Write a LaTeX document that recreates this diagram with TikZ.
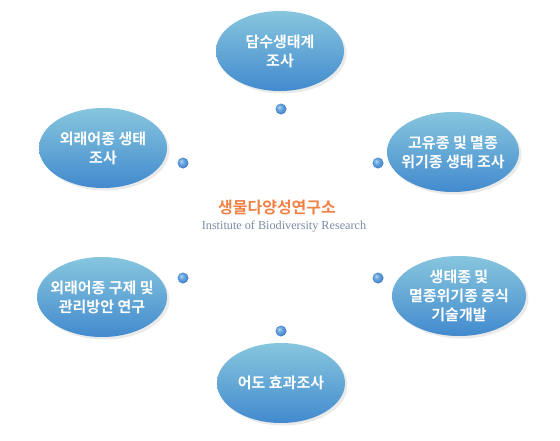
\documentclass[tikz,border=0pt]{standalone}
\usepackage{fontspec}
\newfontfamily\krb{Noto Sans CJK KR Bold}
\newfontfamily\serifen{Liberation Serif}
\usetikzlibrary{shapes.geometric,shadows}
\definecolor{btop}{RGB}{135,198,222}
\definecolor{bbot}{RGB}{66,138,206}
\definecolor{dlight}{RGB}{175,215,240}
\definecolor{dmid}{RGB}{105,165,220}
\definecolor{ddark}{RGB}{55,118,195}
\definecolor{titleor}{RGB}{240,130,70}
\definecolor{engc}{RGB}{125,140,165}
\pgfdeclareradialshading{dotshade}{\pgfpoint{-9bp}{9bp}}{color(0bp)=(dlight); color(12bp)=(dmid); color(30bp)=(ddark); color(50bp)=(ddark)}
\tikzset{
  bubble/.style={ellipse, minimum width=128pt, minimum height=80pt, inner sep=0pt,
    top color=btop, bottom color=bbot, draw=none,
    drop shadow={opacity=0.16, shadow xshift=2.5pt, shadow yshift=-2.5pt}},
  btext/.style={text=white, align=center, font=\krb\fontsize{15}{19}\selectfont},
  dotball/.style={circle, minimum size=11pt, inner sep=0pt, shading=dotshade}
}
\begin{document}
\begin{tikzpicture}[x=1pt,y=-1pt]
\useasboundingbox[fill=white] (0,0) rectangle (560,440);
% bubbles
\node[bubble] (b1) at (280,51) {};
\node[btext] (t1) at (b1) {담수생태계\\조사};
\node[bubble] (b2) at (103,148) {};
\node[btext] (t2) at (b2) {외래어종 생태\\조사};
\node[bubble, minimum width=132pt] (b3) at (453,152) {};
\node[btext] (t3) at (b3) {고유종 및 멸종\\위기종 생태 조사};
\node[bubble, minimum width=130pt] (b4) at (102,297) {};
\node[btext] (t4) at (b4) {외래어종 구제 및\\관리방안 연구};
\node[bubble, minimum width=134pt, minimum height=80pt] (b5) at (459,296) {};
\node[btext] (t5) at (b5) {생태종 및\\멸종위기종 증식\\기술개발};
\node[bubble] (b6) at (281,383) {};
\node[btext] (t6) at (b6) {어도 효과조사};
% dots
\node[dotball] (d1) at (281,109) {};
\node[dotball] (d2) at (183,163) {};
\node[dotball] (d3) at (378,163) {};
\node[dotball] (d4) at (183,278) {};
\node[dotball] (d5) at (378,278) {};
\node[dotball] (d6) at (281,331) {};
% title
\node[text=titleor, font=\krb\fontsize{16}{18}\selectfont] (title) at (277,208) {생물다양성연구소};
\node[text=engc, font=\serifen\fontsize{12.2}{14}\selectfont] (sub) at (284,227) {Institute of Biodiversity Research};
\end{tikzpicture}
\end{document}
